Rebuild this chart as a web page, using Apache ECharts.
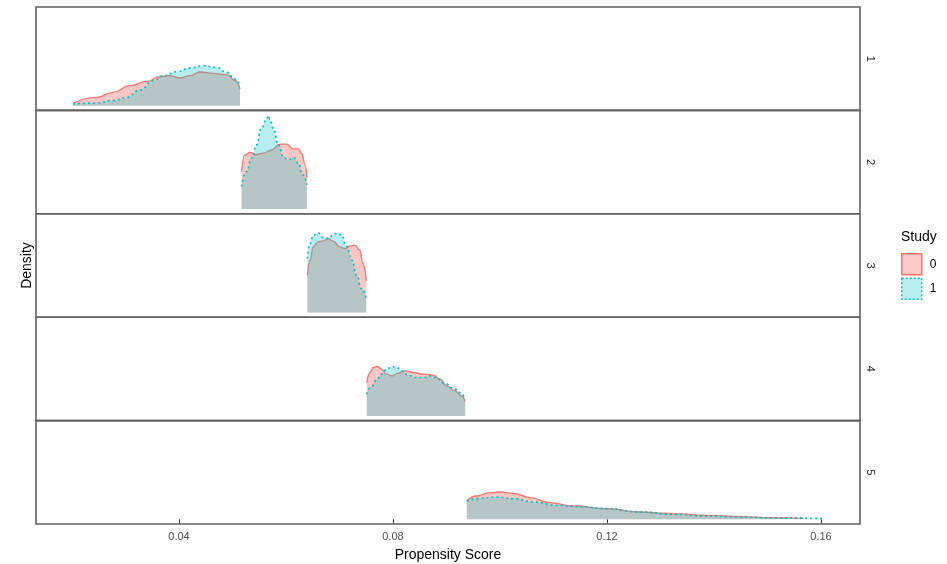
<!DOCTYPE html>
<html>
<head>
<meta charset="utf-8">
<script src="https://cdn.jsdelivr.net/npm/echarts@6/dist/echarts.min.js"></script>
<style>
  html, body { margin: 0; padding: 0; background: #fff; }
  #chart { width: 947px; height: 564px; }
</style>
</head>
<body>
<div id="chart"></div>
<script>
// propensity score strata (facet rows) and study groups
const strata = ['1', '2', '3', '4', '5'];
const studies = ['0', '1'];
const xTicks = [0.04, 0.08, 0.12, 0.16];

// density curves, [propensity score, density]
const s0p1 = [[0.0202, 2.3], [0.0246, 8.3], [0.0277, 13.3], [0.0308, 20], [0.0340, 24.3], [0.0364, 29], [0.0383, 30], [0.0402, 27.7], [0.0421, 30], [0.0439, 33.7], [0.0464, 32.3], [0.0489, 31], [0.0505, 25], [0.0514, 16.7]];
const s1p1 = [[0.0202, 1.7], [0.0246, 2.7], [0.0277, 5], [0.0302, 8.3], [0.0327, 15.7], [0.0352, 25], [0.0371, 30], [0.0396, 34], [0.0421, 37.7], [0.0445, 40], [0.0470, 38.3], [0.0489, 33.3], [0.0505, 26.7], [0.0514, 20]];

const s0p2 = [[0.0517, 37.6], [0.0523, 54.3], [0.0533, 56.6], [0.0542, 54.3], [0.0558, 56], [0.0573, 59.3], [0.0589, 65], [0.0601, 65], [0.0614, 60], [0.0623, 60.3], [0.0629, 56], [0.0636, 44.3], [0.0639, 31]];
const s1p2 = [[0.0517, 22.6], [0.0526, 37.6], [0.0536, 51], [0.0545, 64.3], [0.0554, 81], [0.0564, 90], [0.0567, 93.5], [0.0570, 90], [0.0576, 81], [0.0586, 64.3], [0.0595, 52.6], [0.0604, 49.3], [0.0614, 51.6], [0.0623, 46], [0.0632, 34.3], [0.0639, 24.3]];

const s0p3 = [[0.0640, 37.3], [0.0645, 52.3], [0.0651, 65.6], [0.0660, 70.6], [0.0670, 71.6], [0.0679, 74], [0.0688, 71.3], [0.0701, 65.6], [0.0710, 64], [0.0720, 66.3], [0.0729, 67.3], [0.0738, 62.3], [0.0744, 49], [0.0750, 31.6]];
const s1p3 = [[0.0640, 54], [0.0645, 69], [0.0651, 77.3], [0.0660, 79.6], [0.0670, 75], [0.0679, 74], [0.0688, 77.3], [0.0696, 79.6], [0.0704, 77.3], [0.0713, 66.3], [0.0723, 52.3], [0.0732, 37.3], [0.0741, 24], [0.0750, 14]];

const s0p4 = [[0.0751, 33.4], [0.0757, 43.4], [0.0763, 48.4], [0.0771, 49.4], [0.0779, 46.7], [0.0788, 41.7], [0.0798, 40], [0.0810, 42.7], [0.0822, 45], [0.0838, 43.4], [0.0857, 41.7], [0.0875, 40.7], [0.0888, 36.7], [0.0900, 30], [0.0916, 25], [0.0928, 20], [0.0935, 14.4]];
const s1p4 = [[0.0751, 21.7], [0.0761, 30], [0.0770, 36.7], [0.0779, 41.7], [0.0788, 46.7], [0.0798, 49.4], [0.0807, 48.4], [0.0816, 45], [0.0829, 40.7], [0.0841, 38.4], [0.0857, 38.4], [0.0872, 40], [0.0885, 36.7], [0.0897, 32.4], [0.0913, 27.7], [0.0925, 23.4], [0.0935, 16.7]];

const s0p5 = [[0.0938, 18.3], [0.0956, 23.3], [0.0981, 26.7], [0.1000, 27.3], [0.1025, 26], [0.1056, 21.7], [0.1093, 16.7], [0.1137, 13.3], [0.1199, 10.7], [0.1262, 7.3], [0.1324, 5.7], [0.1386, 4], [0.1449, 2.7], [0.1511, 1.7], [0.1567, 1]];
const s1p5 = [[0.0938, 18.3], [0.0963, 21], [0.0994, 22.3], [0.1025, 20.7], [0.1062, 17.3], [0.1106, 14], [0.1156, 12.3], [0.1199, 10.7], [0.1262, 7.3], [0.1324, 5], [0.1386, 3.3], [0.1449, 2.3], [0.1511, 1.3], [0.1604, 0.7]];

const panels = [[s0p1, s1p1], [s0p2, s1p2], [s0p3, s1p3], [s0p4, s1p4], [s0p5, s1p5]];

const colors = ['#F8766D', '#00BFC4'];
const fills = ['rgba(248,118,109,0.4)', 'rgba(0,191,196,0.28)'];
const lineTypes = ['solid', [2, 3]];

const FONT = '"Liberation Sans", Arial, sans-serif';
const TOP = 7;
const PANEL_H = 103.4;
const last = strata.length - 1;

const chart = echarts.init(document.getElementById('chart'), null, { renderer: 'canvas' });

const option = {
    animation: false,
    textStyle: { fontFamily: FONT },
    title: {
        text: 'Study',
        left: 901,
        top: 230,
        padding: 0,
        textStyle: { fontFamily: FONT, fontSize: 14, fontWeight: 'normal', color: '#000' }
    },
    legend: {
        orient: 'vertical',
        left: 901,
        top: 253,
        padding: 0,
        itemWidth: 20,
        itemHeight: 21,
        itemGap: 2,
        icon: 'rect',
        selectedMode: false,
        textStyle: { fontFamily: FONT, fontSize: 12, color: '#000', padding: [0, 0, 0, 3] },
        data: studies.map((s, k) => ({
            name: s,
            itemStyle: {
                color: fills[k],
                borderColor: colors[k],
                borderWidth: 1.5,
                borderType: k === 0 ? 'solid' : [2, 2]
            }
        }))
    },
    graphic: [{
        type: 'text',
        x: 27,
        y: TOP + PANEL_H * strata.length / 2,
        rotation: Math.PI / 2,
        style: {
            text: 'Density',
            fontFamily: FONT,
            fontSize: 14,
            fill: '#000',
            align: 'center',
            verticalAlign: 'middle'
        }
    }],
    grid: strata.map((s, i) => ({
        left: 36,
        right: 87,
        top: TOP + i * PANEL_H,
        height: PANEL_H,
        outerBoundsMode: 'none',
        containLabel: false,
        show: true,
        borderColor: '#606060',
        borderWidth: 1.6,
        backgroundColor: 'transparent'
    })),
    xAxis: strata.map((s, i) => ({
        type: 'value',
        gridIndex: i,
        min: 0.01327,
        max: 0.1673,
        axisLine: { show: false },
        splitLine: { show: false },
        axisTick: {
            show: i === last,
            customValues: xTicks,
            length: 4,
            lineStyle: { color: '#333' }
        },
        axisLabel: {
            show: i === last,
            customValues: xTicks,
            margin: 7,
            color: '#4d4d4d',
            fontSize: 11,
            fontFamily: FONT,
            formatter: v => v.toFixed(2)
        },
        name: i === last ? 'Propensity Score' : '',
        nameLocation: 'middle',
        nameGap: 24,
        nameTextStyle: { fontFamily: FONT, fontSize: 14, color: '#000' }
    })),
    yAxis: strata.map((s, i) => ({
        type: 'value',
        gridIndex: i,
        position: 'right',
        min: -4.7,
        max: 98.7,
        axisLine: { show: false },
        axisTick: { show: false },
        axisLabel: { show: false },
        splitLine: { show: false },
        name: s,
        nameLocation: 'middle',
        nameRotate: -90,
        nameGap: 5,
        nameTextStyle: { fontFamily: FONT, fontSize: 11, color: '#1a1a1a' }
    })),
    series: panels.flatMap((pair, i) => pair.map((data, k) => ({
        name: studies[k],
        type: 'line',
        xAxisIndex: i,
        yAxisIndex: i,
        data: data,
        smooth: 0.5,
        smoothMonotone: 'x',
        symbol: 'none',
        silent: true,
        z: 2 + k,
        lineStyle: { color: colors[k], width: k === 0 ? 1.3 : 1.7, type: lineTypes[k] },
        itemStyle: { color: colors[k] },
        areaStyle: { color: fills[k], opacity: 1 }
    })))
};

chart.setOption(option);
</script>
</body>
</html>
